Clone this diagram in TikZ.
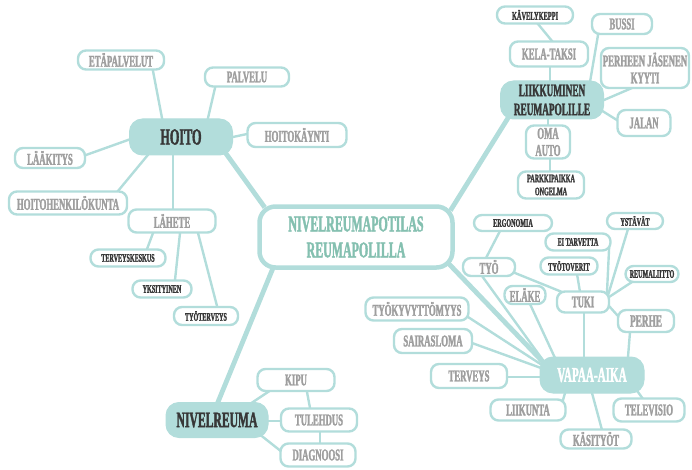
\documentclass[tikz,border=0pt]{standalone}
\usepackage{fontspec}
\usetikzlibrary{calc,backgrounds}
\newfontfamily\cf[FakeStretch=0.53, FakeBold=1.6]{Liberation Serif Bold}
\definecolor{tealln}{RGB}{178,221,219}
\definecolor{tealtx}{RGB}{132,192,176}
\definecolor{greytx}{RGB}{158,158,158}
\definecolor{darktx}{RGB}{55,55,55}
\tikzset{
  base/.style={draw=tealln, line width=2.4pt, fill=white, rounded corners=8pt,
    inner sep=0pt, align=center},
  gbox/.style={base, text=greytx, font=\cf\fontsize{16.5}{16.5}\selectfont},
  dbox/.style={base, text=darktx, font=\cf\fontsize{11.5}{12}\selectfont},
  hub/.style={draw=tealln, line width=1pt, fill=tealln, rounded corners=13pt,
    inner sep=0pt, align=center, text=darktx, font=\cf\fontsize{23}{23}\selectfont},
  core/.style={draw=tealln, line width=4.5pt, fill=white, rounded corners=16pt,
    inner sep=0pt, align=center, text=tealtx, font=\cf\fontsize{22.5}{26}\selectfont},
  link/.style={draw=tealln, line width=2.4pt, shorten <=-3pt, shorten >=-3pt},
  trunk/.style={draw=tealln, line width=4.8pt, shorten <=-3pt, shorten >=-3pt},
  wh/.style 2 args={minimum width=#1pt, minimum height=#2pt},
}
\begin{document}
\begin{tikzpicture}[x=1pt,y=-1pt]
\useasboundingbox (0,0) rectangle (692,470);

% centre
\node[core, wh={193}{61}] (central) at (356,237) {NIVELREUMAPOTILAS\\REUMAPOLILLA};

% care branch
\node[hub, wh={103}{36}] (hoito) at (181,137) {HOITO};
\node[gbox, wh={86}{19}] (etap) at (121,60) {ETÄPALVELUT};
\node[gbox, wh={84}{19}] (palvelu) at (247,77) {PALVELU};
\node[gbox, wh={99}{24}] (hoitok) at (297,135) {HOITOKÄYNTI};
\node[gbox, wh={70}{20}] (laak) at (50,158) {LÄÄKITYS};
\node[gbox, wh={118}{23}] (hhk) at (68,203) {HOITOHENKILÖKUNTA};
\node[gbox, wh={87}{23}] (lahete) at (172,221) {LÄHETE};
\node[dbox, wh={75}{17}] (tk) at (128,258) {TERVEYSKESKUS};
\node[dbox, wh={59}{17}] (yks) at (162,289) {YKSITYINEN};
\node[dbox, wh={64}{18}] (tt) at (206,316) {TYÖTERVEYS};

% disease branch
\node[hub, font=\cf\fontsize{22}{22}\selectfont, wh={102}{35}] (nivel) at (217,420) {NIVELREUMA};
\node[gbox, wh={77}{22}] (kipu) at (296,380) {KIPU};
\node[gbox, wh={76}{23}] (tul) at (319,420) {TULEHDUS};
\node[gbox, wh={75}{23}] (diag) at (318,455) {DIAGNOOSI};

% travel branch
\node[hub, font=\cf\fontsize{17.5}{19}\selectfont, wh={103}{38}] (liik) at (552,100) {LIIKKUMINEN\\REUMAPOLILLE};
\node[dbox, font=\cf\fontsize{12}{12}\selectfont, wh={76}{17}] (kav) at (535,15) {KÄVELYKEPPI};
\node[gbox, wh={60}{20}] (bussi) at (622,24) {BUSSI};
\node[gbox, wh={78}{25}] (kela) at (549,54) {KELA-TAKSI};
\node[gbox, font=\cf\fontsize{16.5}{17}\selectfont, wh={88}{40}] (perheen) at (645,68) {PERHEEN JÄSENEN\\KYYTI};
\node[gbox, wh={53}{26}] (jalan) at (644,123) {JALAN};
\node[gbox, font=\cf\fontsize{16.5}{17}\selectfont, wh={44}{33}] (oma) at (548,142) {OMA\\AUTO};
\node[dbox, font=\cf\fontsize{11.5}{13}\selectfont, wh={66}{27}] (park) at (551,185) {PARKKIPAIKKA\\ONGELMA};

% leisure branch
\node[hub, text=white, font=\cf\fontsize{21}{21}\selectfont, wh={104}{36}] (vapaa) at (592,375) {VAPAA-AIKA};
\node[dbox, wh={78}{16}] (ergo) at (513,223) {ERGONOMIA};
\node[dbox, wh={56}{16}] (ysta) at (635,221) {YSTÄVÄT};
\node[dbox, wh={65}{17}] (eit) at (578,242) {EI TARVETTA};
\node[dbox, wh={57}{17}] (tyot) at (569,266) {TYÖTOVERIT};
\node[gbox, wh={52}{18}] (tyo) at (489,267) {TYÖ};
\node[dbox, wh={53}{16}] (reum) at (652,274) {REUMALIITTO};
\node[gbox, wh={41}{18}] (elake) at (525,295) {ELÄKE};
\node[gbox, wh={52}{21}] (tuki) at (583,302) {TUKI};
\node[gbox, font=\cf\fontsize{17.5}{17.5}\selectfont, wh={56}{22}] (perhe) at (646,321) {PERHE};
\node[gbox, wh={103}{23}] (tky) at (417,309) {TYÖKYVYTTÖMYYS};
\node[gbox, wh={78}{24}] (sair) at (433,341) {SAIRASLOMA};
\node[gbox, wh={76}{24}] (terv) at (469,376) {TERVEYS};
\node[gbox, wh={75}{21}] (liikunta) at (528,410) {LIIKUNTA};
\node[gbox, wh={71}{23}] (telev) at (649,410) {TELEVISIO};
\node[gbox, wh={71}{19}] (kasi) at (596,439) {KÄSITYÖT};

\begin{scope}[on background layer]
  % main branches
  \draw[trunk] ($(hoito)+(46,18)$) -- ($(central)+(-93,-32)$);
  \draw[trunk] ($(central)+(-83,31)$) -- ($(nivel)+(1,-18)$);
  \draw[trunk] ($(central)+(96,-29)$) -- ($(liik)+(-44,18)$);
  \draw[trunk] ($(central)+(94,28)$) -- ($(vapaa)+(-49,-13)$);
  % care
  \draw[link] ($(etap)+(32,11)$) -- ($(hoito)+(-19,-19)$);
  \draw[link] ($(palvelu)+(-32,11)$) -- ($(hoito)+(27,-19)$);
  \draw[link] ($(hoitok)+(-50,-1)$) -- ($(hoito)+(52,0)$);
  \draw[link] ($(laak)+(36,-3)$) -- ($(hoito)+(-53,3)$);
  \draw[link] ($(hhk)+(50,-12)$) -- ($(hoito)+(-34,19)$);
  \draw[link] ($(lahete)+(1,-12)$) -- ($(hoito)+(-8,18)$);
  \draw[link] ($(lahete)+(-19,12)$) -- ($(tk)+(19,-9)$);
  \draw[link] ($(lahete)+(8,12)$) -- ($(yks)+(13,-9)$);
  \draw[link] ($(lahete)+(26,12)$) -- ($(tt)+(11,-10)$);
  % disease
  \draw[link] ($(nivel)+(36,-18)$) -- ($(kipu)+(-28,12)$);
  \draw[link] ($(nivel)+(52,1)$) -- ($(tul)+(-39,1)$);
  \draw[link] ($(nivel)+(46,17)$) -- ($(diag)+(-36,-3)$);
  \draw[link] ($(kipu)+(11,12)$) -- ($(tul)+(-9,-12)$);
  \draw[link] ($(tul)+(1,12)$) -- ($(diag)+(2,-12)$);
  % travel
  \draw[link] ($(kav)+(3,9)$) -- ($(kela)+(3,-13)$);
  \draw[link] ($(kela)+(1,12)$) -- ($(liik)+(-2,-19)$);
  \draw[link] ($(bussi)+(-24,11)$) -- ($(liik)+(38,-18)$);
  \draw[link] ($(perheen)+(-13,20)$) -- ($(liik)+(52,0)$);
  \draw[link] ($(jalan)+(-24,-1)$) -- ($(liik)+(52,12)$);
  \draw[link] ($(oma)+(0,-16)$) -- ($(liik)+(-4,19)$);
  \draw[link] ($(oma)+(2,16)$) -- ($(park)+(-1,-13)$);
  % leisure
  \draw[link] ($(tyo)+(-7,9)$) -- ($(vapaa)+(-47,-12)$);
  \draw[link] ($(elake)+(5,9)$) -- ($(vapaa)+(-37,-17)$);
  \draw[link] ($(tky)+(51,8)$) -- ($(vapaa)+(-50,-10)$);
  \draw[link] ($(sair)+(39,2)$) -- ($(vapaa)+(-51,-7)$);
  \draw[link] ($(terv)+(38,1)$) -- ($(vapaa)+(-52,2)$);
  \draw[link] ($(liikunta)+(35,-10)$) -- ($(vapaa)+(-27,18)$);
  \draw[link] ($(kasi)+(6,-9)$) -- ($(vapaa)+(0,18)$);
  \draw[link] ($(telev)+(-6,-11)$) -- ($(vapaa)+(46,17)$);
  \draw[link] ($(perhe)+(-16,11)$) -- ($(vapaa)+(36,-18)$);
  \draw[link] ($(tuki)+(1,10)$) -- ($(vapaa)+(-8,-18)$);
  \draw[link] ($(tyo)+(26,6)$) -- ($(tuki)+(-21,-10)$);
  \draw[link] ($(ergo)+(-13,8)$) -- ($(tyo)+(-3,-9)$);
  \draw[link] ($(tyot)+(8,8)$) -- ($(tuki)+(-3,-10)$);
  \draw[link] ($(eit)+(31,8)$) -- ($(tuki)+(24,-10)$);
  \draw[link] ($(ysta)+(-7,8)$) -- ($(tuki)+(26,-10)$);
  \draw[link] ($(reum)+(-20,8)$) -- ($(tuki)+(26,-5)$);
  \draw[link] ($(tuki)+(26,4)$) -- ($(perhe)+(-28,-5)$);
\end{scope}
\end{tikzpicture}
\end{document}
